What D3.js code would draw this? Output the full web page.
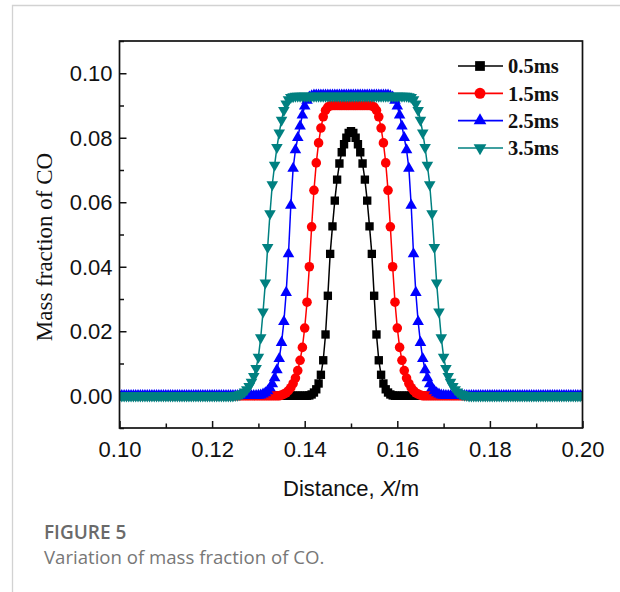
<!DOCTYPE html>
<html>
<head>
<meta charset="utf-8">
<script src="https://cdn.jsdelivr.net/npm/d3@7"></script>
<style>
body { margin: 0; background: #fff; }
svg { display: block; }
</style>
</head>
<body>
<svg id="chart" width="620" height="592"></svg>
<script>
// sampling grid: 0.10 .. 0.20 m, 201 points
const xStart = 0.1, xStep = 0.0005, nPts = 201;
const distance = d3.range(nPts).map(i => +(xStart + i * xStep).toFixed(4));

const seriesNames = ["0.5ms", "1.5ms", "2.5ms", "3.5ms"];
const seriesColors = ["#000000", "#ff0000", "#0000ff", "#008080"];

// mass fraction of CO (one row = 10 grid points)
const co05 = [
  0,0,0,0,0,0,0,0,0,0,
  0,0,0,0,0,0,0,0,0,0,
  0,0,0,0,0,0,0,0,0,0,
  0,0,0,0,0,0,0,0,0,0,
  0,0,0,0,0,0,0,0,0,0,
  0,0,0,0,0,0,0,0,0,0,
  0,0,0,0,0,0,0,0,0,0,
  0,0,0,0,0,0,0,0,0,0,
  0,0,.0001,.0004,.001,.002,.0038,.0065,.011,.019,
  .031,.044,.0525,.0605,.067,.072,.0755,.078,.08,.0815,
  .082,.0815,.08,.078,.0755,.072,.067,.0605,.0525,.044,
  .031,.019,.011,.0065,.0038,.002,.001,.0004,.0001,0,
  0,0,0,0,0,0,0,0,0,0,
  0,0,0,0,0,0,0,0,0,0,
  0,0,0,0,0,0,0,0,0,0,
  0,0,0,0,0,0,0,0,0,0,
  0,0,0,0,0,0,0,0,0,0,
  0,0,0,0,0,0,0,0,0,0,
  0,0,0,0,0,0,0,0,0,0,
  0,0,0,0,0,0,0,0,0,0,
  0
];
const co15 = [
  0,0,0,0,0,0,0,0,0,0,
  0,0,0,0,0,0,0,0,0,0,
  0,0,0,0,0,0,0,0,0,0,
  0,0,0,0,0,0,0,0,0,0,
  0,0,0,0,0,0,0,0,0,0,
  0,0,0,0,0,0,0,0,0,0,
  0,0,0,0,0,0,0,0,0,0,
  .0002,.0005,.0009,.0016,.0025,.0038,.0055,.0078,.011,.015,
  .021,.029,.04,.0524,.0637,.0722,.0784,.083,.0865,.0885,
  .0895,.0899,.09,.09,.09,.09,.09,.09,.09,.09,
  .09,.09,.09,.09,.09,.09,.09,.09,.09,.0899,
  .0895,.0885,.0865,.083,.0784,.0722,.0637,.0524,.04,.029,
  .021,.015,.011,.0078,.0055,.0038,.0025,.0016,.0009,.0005,
  .0002,0,0,0,0,0,0,0,0,0,
  0,0,0,0,0,0,0,0,0,0,
  0,0,0,0,0,0,0,0,0,0,
  0,0,0,0,0,0,0,0,0,0,
  0,0,0,0,0,0,0,0,0,0,
  0,0,0,0,0,0,0,0,0,0,
  0,0,0,0,0,0,0,0,0,0,
  0
];
const co25 = [
  0,0,0,0,0,0,0,0,0,0,
  0,0,0,0,0,0,0,0,0,0,
  0,0,0,0,0,0,0,0,0,0,
  0,0,0,0,0,0,0,0,0,0,
  0,0,0,0,0,0,0,0,0,0,
  0,0,0,0,0,0,0,0,0,0,
  .0001,.0002,.0005,.0009,.0015,.0024,.0037,.0055,.008,.0115,
  .0165,.023,.032,.044,.059,.0705,.0762,.08,.0836,.087,
  .0898,.0916,.0926,.093,.0932,.0932,.0932,.0932,.0932,.0932,
  .0932,.0932,.0932,.0932,.0932,.0932,.0932,.0932,.0932,.0932,
  .0932,.0932,.0932,.0932,.0932,.0932,.0932,.0932,.0932,.0932,
  .0932,.0932,.0932,.0932,.0932,.0932,.0932,.093,.0926,.0916,
  .0898,.087,.0836,.08,.0762,.0705,.059,.044,.032,.023,
  .0165,.0115,.008,.0055,.0037,.0024,.0015,.0009,.0005,.0002,
  .0001,0,0,0,0,0,0,0,0,0,
  0,0,0,0,0,0,0,0,0,0,
  0,0,0,0,0,0,0,0,0,0,
  0,0,0,0,0,0,0,0,0,0,
  0,0,0,0,0,0,0,0,0,0,
  0,0,0,0,0,0,0,0,0,0,
  0
];
const co35 = [
  0,0,0,0,0,0,0,0,0,0,
  0,0,0,0,0,0,0,0,0,0,
  0,0,0,0,0,0,0,0,0,0,
  0,0,0,0,0,0,0,0,0,0,
  0,0,0,0,0,0,0,0,0,0,
  .0001,.0002,.0004,.0007,.0012,.0019,.0029,.0042,.006,.0085,
  .012,.018,.026,.035,.046,.0565,.0655,.0715,.077,.0815,
  .0855,.0885,.0905,.0918,.0925,.0928,.0929,.0929,.0929,.0929,
  .0929,.0929,.0929,.0929,.0929,.0929,.0929,.0929,.0929,.0929,
  .0929,.0929,.0929,.0929,.0929,.0929,.0929,.0929,.0929,.0929,
  .0929,.0929,.0929,.0929,.0929,.0929,.0929,.0929,.0929,.0929,
  .0929,.0929,.0929,.0929,.0929,.0929,.0929,.0929,.0929,.0929,
  .0929,.0929,.0929,.0929,.0929,.0928,.0925,.0918,.0905,.0885,
  .0855,.0815,.077,.0715,.0655,.0565,.046,.035,.026,.018,
  .012,.0085,.006,.0042,.0029,.0019,.0012,.0007,.0004,.0002,
  .0001,0,0,0,0,0,0,0,0,0,
  0,0,0,0,0,0,0,0,0,0,
  0,0,0,0,0,0,0,0,0,0,
  0,0,0,0,0,0,0,0,0,0,
  0,0,0,0,0,0,0,0,0,0,
  0
];

const xTicks = [0.10, 0.12, 0.14, 0.16, 0.18, 0.20];
const xMinor = [0.11, 0.13, 0.15, 0.17, 0.19];
const yTicks = [0.00, 0.02, 0.04, 0.06, 0.08, 0.10];
const yMinor = [-0.01, 0.01, 0.03, 0.05, 0.07, 0.09, 0.11];

const svg = d3.select("#chart");

// page card edge
svg.append("path").attr("d", "M12.5,592V5.5H620").attr("fill", "none")
  .attr("stroke", "#d2d2d2").attr("stroke-width", 1.3);

const plotL = 119.5, plotR = 582.5, plotT = 41, plotB = 428;
const x = d3.scaleLinear().domain([0.1, 0.2]).range([plotL, plotR]);
const y = d3.scaleLinear().domain([-0.01, 0.11]).range([plotB, plotT]);

svg.append("clipPath").attr("id", "plotclip").append("rect")
  .attr("x", plotL).attr("y", plotT).attr("width", plotR - plotL).attr("height", plotB - plotT);

const tickFont = "'Liberation Sans', Arial, sans-serif";

// axes with inward ticks
const gx = svg.append("g").attr("transform", `translate(0,${plotB})`)
  .call(d3.axisBottom(x).tickValues(xTicks).tickSize(-7).tickFormat(d3.format(".2f")));
svg.append("g").attr("transform", `translate(0,${plotB})`)
  .call(d3.axisBottom(x).tickValues(xMinor).tickSize(-4.5).tickFormat(""));
const gy = svg.append("g").attr("transform", `translate(${plotL},0)`)
  .call(d3.axisLeft(y).tickValues(yTicks).tickSize(-7).tickFormat(d3.format(".2f")));
svg.append("g").attr("transform", `translate(${plotL},0)`)
  .call(d3.axisLeft(y).tickValues(yMinor).tickSize(-4.5).tickFormat(""));
svg.selectAll(".domain").remove();
svg.selectAll(".tick line").attr("stroke", "#111").attr("stroke-width", 1.5);
gx.selectAll("text").attr("y", 13).attr("dy", "0.71em")
  .attr("font-family", tickFont).attr("font-size", 22).attr("fill", "#111");
gy.selectAll("text").attr("x", -7).attr("dy", "0.35em")
  .attr("font-family", tickFont).attr("font-size", 22).attr("fill", "#111");

// data
const series = [co05, co15, co25, co35].map((vals, s) => ({
  name: seriesNames[s], color: seriesColors[s],
  pts: vals.map((v, i) => ({ d: distance[i], v }))
}));

const symbols = [
  d3.symbol().type(d3.symbolSquare).size(70),
  d3.symbol().type(d3.symbolCircle).size(72),
  d3.symbol().type(d3.symbolTriangle).size(58),
  d3.symbol().type(d3.symbolTriangle).size(58)
];
const rot = [0, 0, 0, 180];

const line = d3.line().x(p => x(p.d)).y(p => y(p.v));
const plot = svg.append("g").attr("clip-path", "url(#plotclip)");

series.forEach((s, k) => {
  const g = plot.append("g");
  g.append("path").attr("d", line(s.pts)).attr("fill", "none")
    .attr("stroke", s.color).attr("stroke-width", 1.5);
  g.selectAll("path.m").data(s.pts).enter().append("path").attr("class", "m")
    .attr("d", symbols[k])
    .attr("transform", p => `translate(${x(p.d)},${y(p.v)}) rotate(${rot[k]})`)
    .attr("fill", s.color);
});

// frame
svg.append("rect").attr("x", plotL).attr("y", plotT)
  .attr("width", plotR - plotL).attr("height", plotB - plotT)
  .attr("fill", "none").attr("stroke", "#111").attr("stroke-width", 1.7);

// legend
const legendY = d3.scalePoint().domain(seriesNames).range([66, 148]);
const lg = svg.append("g");
series.forEach((s, k) => {
  const ly = legendY(s.name);
  lg.append("line").attr("x1", 458).attr("x2", 503).attr("y1", ly).attr("y2", ly)
    .attr("stroke", s.color).attr("stroke-width", 1.7);
  lg.append("path").attr("d", d3.symbol().type(k === 0 ? d3.symbolSquare : k === 1 ? d3.symbolCircle : d3.symbolTriangle)
      .size(k >= 2 ? 70 : 95))
    .attr("transform", `translate(480,${ly}) rotate(${rot[k]})`).attr("fill", s.color);
  lg.append("text").attr("x", 508).attr("y", ly).attr("dy", "0.35em")
    .attr("font-family", "'Liberation Serif', 'Times New Roman', serif")
    .attr("font-weight", "bold").attr("font-size", 20.5).attr("fill", "#111")
    .text(s.name);
});

// axis titles
const xt = svg.append("text").attr("x", (plotL + plotR) / 2).attr("y", 496)
  .attr("text-anchor", "middle").attr("font-family", tickFont)
  .attr("font-size", 22).attr("fill", "#111");
xt.append("tspan").text("Distance, ");
xt.append("tspan").attr("font-style", "italic").text("X");
xt.append("tspan").attr("dx", -1).text("/m");

svg.append("text").attr("transform", `translate(52,247) rotate(-90)`)
  .attr("text-anchor", "middle")
  .attr("font-family", "'Liberation Serif', 'Times New Roman', serif")
  .attr("font-size", 23).attr("fill", "#111")
  .text("Mass fraction of CO");

// caption
svg.append("text").attr("x", 44).attr("y", 539)
  .attr("font-family", "'Open Sans', sans-serif").attr("font-weight", 600)
  .attr("font-size", 19).attr("fill", "#6a6a6a").text("FIGURE 5");
svg.append("text").attr("x", 44).attr("y", 564)
  .attr("font-family", "'Open Sans', sans-serif")
  .attr("font-size", 18.6).attr("fill", "#777").text("Variation of mass fraction of CO.");
</script>
</body>
</html>
